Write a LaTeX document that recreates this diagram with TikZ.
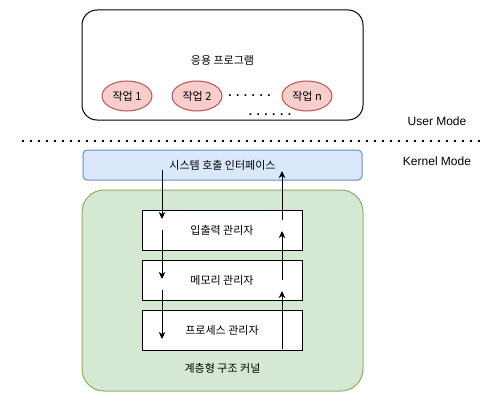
\documentclass[tikz,border=0pt]{standalone}
\usepackage{fontspec}
\setmainfont{Liberation Sans}
\newfontfamily\kr{Noto Sans CJK KR}
\usetikzlibrary{arrows.meta,shapes.geometric}
\definecolor{redfill}{HTML}{F8CECC}
\definecolor{redline}{HTML}{B85450}
\definecolor{bluefill}{HTML}{DAE8FC}
\definecolor{blueline}{HTML}{6C8EBF}
\definecolor{greenfill}{HTML}{D5E8D4}
\definecolor{greenline}{HTML}{82B366}
\tikzset{
  krtext/.style={font=\kr\fontsize{11}{13}\selectfont, inner sep=0pt},
  entext/.style={font=\fontsize{12}{14}\selectfont, inner sep=0pt},
  taskell/.style={ellipse, draw=redline, fill=redfill, line width=1pt, minimum width=50pt, minimum height=30pt, inner sep=0pt, font=\kr\fontsize{11}{13}\selectfont},
  mgrbox/.style={rectangle, draw=black, fill=white, line width=1pt, minimum width=160pt, minimum height=40pt, inner sep=0pt, font=\kr\fontsize{11}{13}\selectfont},
  flow/.style={line width=1pt, -{Stealth[length=7pt,width=6.5pt,inset=2pt]}},
  dotrow/.style={font=\bfseries\fontsize{12}{14}\selectfont, inner sep=0pt, anchor=base}
}
\begin{document}
\begin{tikzpicture}[x=1pt,y=-1pt]
\useasboundingbox (0,0) rectangle (486,401);
% user application box
\node[rectangle, rounded corners=15pt, draw=black, line width=1pt, minimum width=281pt, minimum height=110pt, inner sep=0pt] (app) at (222.5,65) {};
\node[krtext] (applabel) at (222.5,60) {응용 프로그램};
\node[taskell] (t1) at (127,96) {작업 1};
\node[taskell] (t2) at (197,96) {작업 2};
\node[taskell] (tn) at (307,96) {작업 n};
\node[dotrow] (dots1) at (249.5,96) {. . . . . .};
\node[dotrow] (dots2) at (270,115.5) {. . . . . .};
% mode separator
\coordinate (sepL) at (22,141);
\coordinate (sepR) at (482,141);
\draw[line width=2pt, dash pattern=on 2pt off 6pt] (sepL) -- (sepR);
\node[entext] (um) at (437,121) {User Mode};
\node[entext] (km) at (437,161) {Kernel Mode};
% system call interface
\node[rectangle, rounded corners=4pt, draw=blueline, fill=bluefill, line width=1pt, minimum width=279pt, minimum height=30pt, inner sep=0pt, font=\kr\fontsize{11}{13}\selectfont] (sci) at (222.5,165) {시스템 호출 인터페이스};
% kernel
\node[rectangle, rounded corners=22pt, draw=greenline, fill=greenfill, line width=1pt, minimum width=281pt, minimum height=201pt, inner sep=0pt] (kernel) at (222.5,290.5) {};
\node[krtext] (klabel) at (222.5,368) {계층형 구조 커널};
\node[mgrbox] (io) at (222,230) {입출력 관리자};
\node[mgrbox] (mem) at (222,280) {메모리 관리자};
\node[mgrbox] (proc) at (222,330) {프로세스 관리자};
% downward arrows
\coordinate (d1s) at (162,170);
\coordinate (d1e) at (162,219);
\coordinate (d2s) at (162,230);
\coordinate (d2e) at (162,279);
\coordinate (d3s) at (162,290);
\coordinate (d3e) at (162,339);
\draw[flow] (d1s) -- (d1e);
\draw[flow] (d2s) -- (d2e);
\draw[flow] (d3s) -- (d3e);
% upward arrows
\coordinate (u1s) at (282,349);
\coordinate (u1e) at (282,291);
\coordinate (u2s) at (282,280);
\coordinate (u2e) at (282,231);
\coordinate (u3s) at (282,220);
\coordinate (u3e) at (282,171);
\draw[flow] (u1s) -- (u1e);
\draw[flow] (u2s) -- (u2e);
\draw[flow] (u3s) -- (u3e);
\end{tikzpicture}
\end{document}
